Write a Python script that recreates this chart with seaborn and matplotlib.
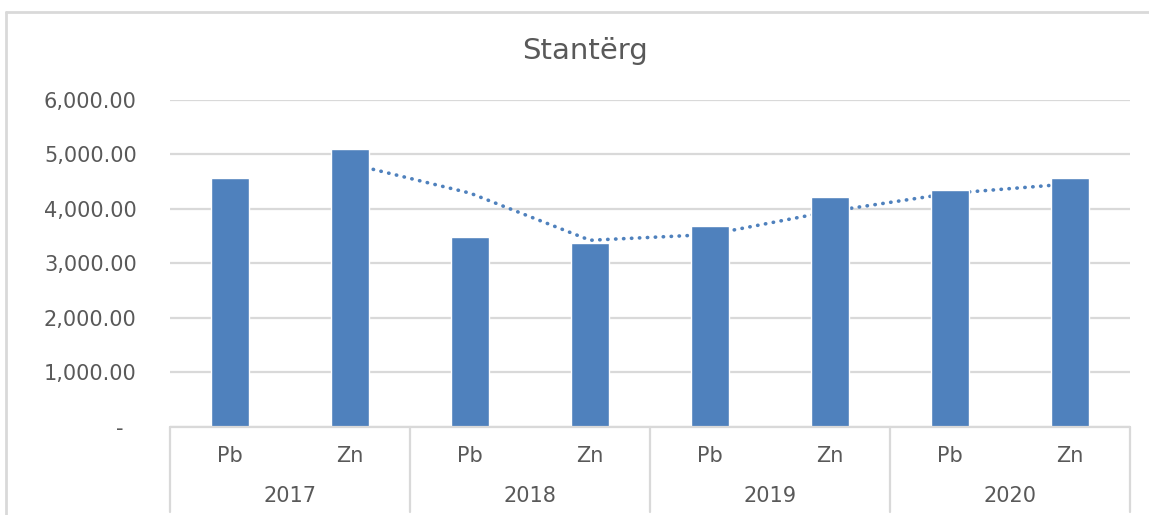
import numpy as np
import pandas as pd
import seaborn as sns
import matplotlib.pyplot as plt
from matplotlib.lines import Line2D
from matplotlib.ticker import FuncFormatter

years = ['2017', '2018', '2019', '2020']
metals = ['Pb', 'Zn']
values = [4565, 5100, 3480, 3370, 3688, 4220, 4348, 4572]
# dotted trend line (starts at second bar)
trend = [np.nan, 4830, 4290, 3425, 3530, 3955, 4285, 4460]

rows = []
for i, y in enumerate(years):
    for j, m in enumerate(metals):
        rows.append({'year': y, 'metal': m, 'label': y + ' ' + m,
                     'value': values[i * len(metals) + j]})
df = pd.DataFrame(rows)
df['trend'] = trend
df['pos'] = np.arange(len(df))

sns.set_style('white')
plt.rcParams['font.family'] = ['DejaVu Sans']

blue = '#4F81BD'
grey_txt = '#595959'
grid_c = '#D9D9D9'
fs = 15

fig = plt.figure(figsize=(11.49, 5.15), dpi=100)
ax = fig.add_axes([0.148, 0.171, 0.8355, 0.635])

sns.lineplot(data=df, x='pos', y='trend', ax=ax, color=blue, lw=2.6,
             linestyle=(0, (0.1, 2.1)), dash_capstyle='round', zorder=1)
sns.barplot(data=df, x='label', y='value', order=list(df['label']), ax=ax,
            color=blue, width=0.31, saturation=1, zorder=2)

ax.set_xlim(-0.5, len(df) - 0.5)
ax.set_ylim(0, 6000)
ax.set_yticks(np.arange(0, 6001, 1000))


def fmt(v, p):
    if v == 0:
        return '-  '
    return f'{v:,.2f}'


ax.yaxis.set_major_formatter(FuncFormatter(fmt))
ax.grid(axis='y', color=grid_c, lw=1.6)
ax.set_axisbelow(True)
for s in ax.spines.values():
    s.set_visible(False)
ax.axhline(0, color=grid_c, lw=1.6, zorder=3, clip_on=False)

ax.set_xticks(df['pos'])
ax.set_xticklabels(df['metal'])
ax.tick_params(axis='both', length=0, labelsize=fs, labelcolor=grey_txt)
ax.tick_params(axis='y', pad=24)
ax.tick_params(axis='x', pad=14)
ax.set_xlabel('')
ax.set_ylabel('')

# year row and group separators
tr = ax.get_xaxis_transform()
n = len(metals)
for i, y in enumerate(years):
    ax.text(i * n + (n - 1) / 2, -0.21, y, transform=tr, ha='center',
            va='center', fontsize=fs, color=grey_txt)
for b in np.arange(-0.5, len(df), n):
    ax.plot([b, b], [0, -0.26], transform=tr, color=grid_c, lw=1.6,
            clip_on=False)

fig.text(0.5095, 0.8854, 'Stantërg', ha='center', va='baseline', fontsize=21,
         color=grey_txt)

# outer chart frame (left and top visible)
fig.add_artist(Line2D([0.0055, 0.0055], [0, 0.977], color=grid_c, lw=2))
fig.add_artist(Line2D([0.0055, 1], [0.977, 0.977], color=grid_c, lw=2))

fig.savefig('out.png', dpi=100)
